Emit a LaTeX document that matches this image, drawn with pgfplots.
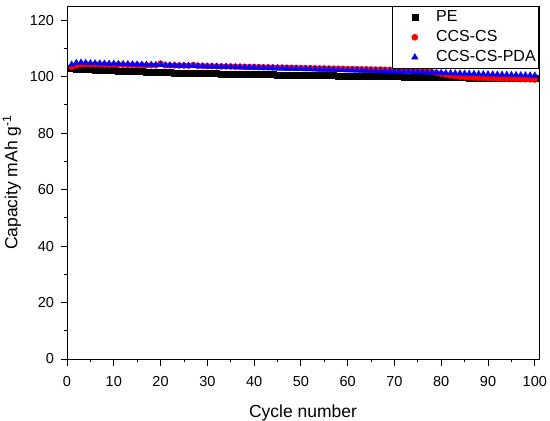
\documentclass[border=0pt]{standalone}
\usepackage{pgfplots}
\pgfplotsset{compat=1.18}
\usepackage{fontspec}
\setmainfont{Liberation Sans}
\begin{document}
\begin{tikzpicture}
\useasboundingbox (0,0) rectangle (550pt,421pt);
\begin{axis}[
  at={(67pt,62pt)}, anchor=south west,
  scale only axis, width=472pt, height=353pt,
  xmin=0, xmax=100.9, ymin=0, ymax=125,
  xtick={0,10,...,100}, ytick={0,20,...,120},
  minor x tick num=1, minor y tick num=1,
  tick align=outside, xtick pos=bottom, ytick pos=left,
  major tick length=6.5pt, minor tick length=3pt,
  axis line style={line width=0.9pt},
  every tick/.style={line width=0.8pt, black},
  /pgf/number format/assume math mode=true,
  ticklabel style={font=\fontsize{14.5}{16}\selectfont},
  xticklabel style={yshift=-7pt},
  yticklabel style={xshift=-3pt},
  xlabel={Cycle number}, ylabel={Capacity mAh g\textsuperscript{-1}},
  label style={font=\fontsize{17.5}{20}\selectfont},
  xlabel style={yshift=-12pt},
  ylabel style={yshift=2pt},
  legend style={at={(1,1)}, anchor=north east, draw=black, line width=0.6pt,
    font=\fontsize{16}{19}\selectfont, inner xsep=2pt, inner ysep=2pt,
    row sep=2pt,
    nodes={inner sep=1pt, text height=12pt, text depth=4pt}},
  legend cell align=left,
  legend image code/.code={\path (0pt,0pt) (40pt,0pt); \draw[#1] plot coordinates {(20pt,0pt)};},
]
\addplot[only marks, mark=square*, mark size=3pt, black] coordinates {
(1,102.80)(2,102.72)(3,102.64)(4,102.57)(5,102.49)(6,102.41)(7,102.33)(8,102.26)(9,102.18)(10,102.10)
(11,102.04)(12,101.98)(13,101.92)(14,101.86)(15,101.80)(16,101.74)(17,101.68)(18,101.62)(19,101.56)(20,101.50)
(21,101.46)(22,101.42)(23,101.38)(24,101.34)(25,101.30)(26,101.26)(27,101.22)(28,101.18)(29,101.14)(30,101.10)
(31,101.07)(32,101.04)(33,101.01)(34,100.98)(35,100.95)(36,100.92)(37,100.89)(38,100.86)(39,100.83)(40,100.80)
(41,100.77)(42,100.74)(43,100.71)(44,100.68)(45,100.65)(46,100.62)(47,100.59)(48,100.56)(49,100.53)(50,100.50)
(51,100.48)(52,100.45)(53,100.43)(54,100.40)(55,100.38)(56,100.35)(57,100.33)(58,100.30)(59,100.28)(60,100.25)
(61,100.23)(62,100.20)(63,100.18)(64,100.15)(65,100.13)(66,100.10)(67,100.08)(68,100.05)(69,100.03)(70,100.00)
(71,99.98)(72,99.95)(73,99.93)(74,99.90)(75,99.88)(76,99.85)(77,99.83)(78,99.80)(79,99.78)(80,99.75)
(81,99.73)(82,99.70)(83,99.68)(84,99.65)(85,99.63)(86,99.60)(87,99.58)(88,99.55)(89,99.53)(90,99.50)
(91,99.48)(92,99.46)(93,99.44)(94,99.42)(95,99.40)(96,99.38)(97,99.36)(98,99.34)(99,99.32)(100,99.30)
};
\addlegendentry{PE}
\addplot[only marks, mark=*, mark size=3pt, red, mark options={fill=red, draw=red}] coordinates {
(1,103.4)(2,104.0)(3,104.3)(4,104.4)(5,104.3)(6,104.3)(7,104.25)(8,104.25)(9,104.2)(10,104.2)
(11,104.2)(12,104.15)(13,104.1)(14,104.1)(15,104.05)(16,104.05)(17,104.0)(18,104.0)(19,104.0)(20,104.6)
(21,104.0)(22,104.0)(23,103.95)(24,103.9)(25,103.9)(26,103.85)(27,104.1)(28,103.8)(29,103.75)(30,103.7)
(31,103.7)(32,103.65)(33,103.6)(34,103.6)(35,103.55)(36,103.5)(37,103.5)(38,103.45)(39,103.4)(40,103.4)
(41,103.35)(42,103.3)(43,103.3)(44,103.25)(45,103.2)(46,103.2)(47,103.15)(48,103.1)(49,103.1)(50,103.05)
(51,103.0)(52,103.0)(53,102.95)(54,102.9)(55,102.9)(56,102.85)(57,102.8)(58,102.8)(59,102.75)(60,102.7)
(61,102.7)(62,102.65)(63,102.6)(64,102.6)(65,102.55)(66,102.5)(67,102.5)(68,102.45)(69,102.4)(70,102.4)
(71,102.35)(72,102.3)(73,102.25)(74,102.2)(75,102.1)(76,102.0)(77,101.85)(78,101.6)(79,101.3)(80,101.0)
(81,100.7)(82,100.4)(83,100.15)(84,99.95)(85,99.8)(86,99.7)(87,99.6)(88,99.55)(89,99.5)(90,99.45)
(91,99.4)(92,99.35)(93,99.3)(94,99.25)(95,99.2)(96,99.15)(97,99.1)(98,99.05)(99,99.0)(100,98.95)
};
\addlegendentry{CCS-CS}
\addplot[only marks, mark=triangle*, mark size=3.6pt, blue, mark options={fill=blue, draw=blue}] coordinates {
(1,104.3)(2,104.9)(3,105.0)(4,104.9)(5,104.80)(6,104.75)(7,104.71)(8,104.66)(9,104.62)(10,104.57)
(11,104.52)(12,104.48)(13,104.43)(14,104.38)(15,104.34)(16,104.29)(17,104.25)(18,104.20)(19,104.15)(20,104.11)
(21,104.06)(22,104.01)(23,103.97)(24,103.92)(25,103.87)(26,103.83)(27,103.78)(28,103.74)(29,103.69)(30,103.64)
(31,103.60)(32,103.55)(33,103.50)(34,103.46)(35,103.41)(36,103.37)(37,103.32)(38,103.27)(39,103.23)(40,103.18)
(41,103.13)(42,103.09)(43,103.04)(44,102.99)(45,102.95)(46,102.90)(47,102.86)(48,102.81)(49,102.76)(50,102.72)
(51,102.67)(52,102.62)(53,102.58)(54,102.53)(55,102.49)(56,102.44)(57,102.39)(58,102.35)(59,102.30)(60,102.25)
(61,102.21)(62,102.16)(63,102.12)(64,102.07)(65,102.02)(66,101.98)(67,101.93)(68,101.88)(69,101.84)(70,101.79)
(71,101.75)(72,101.70)(73,101.65)(74,101.61)(75,101.56)(76,101.51)(77,101.47)(78,101.42)(79,101.37)(80,101.33)
(81,101.28)(82,101.24)(83,101.19)(84,101.14)(85,101.10)(86,101.05)(87,101.00)(88,100.96)(89,100.91)(90,100.87)
(91,100.82)(92,100.77)(93,100.73)(94,100.68)(95,100.63)(96,100.59)(97,100.54)(98,100.50)(99,100.45)(100,100.40)
};
\addlegendentry{CCS-CS-PDA}
\end{axis}
\end{tikzpicture}
\end{document}
